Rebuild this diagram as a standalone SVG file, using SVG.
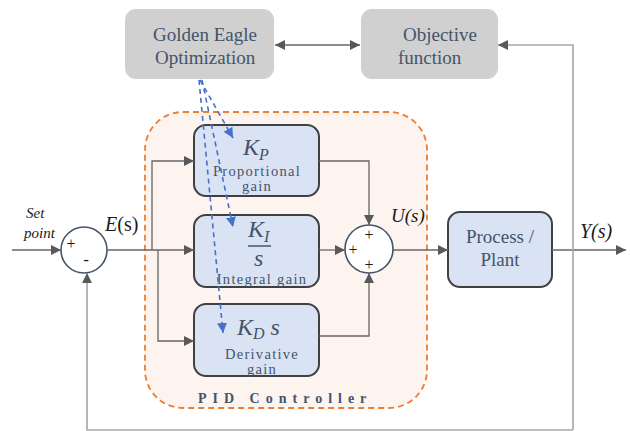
<svg xmlns="http://www.w3.org/2000/svg" width="630" height="431" viewBox="0 0 630 431">
<style>
.top{fill:#d0d0d0;}
.blk{fill:#dae3f3;stroke:#404040;stroke-width:2;}
.sum{fill:#fff;stroke:#44546a;stroke-width:1.6;}
.t{font-family:"Liberation Serif","Times New Roman",serif;fill:#44546a;}
.big{font-size:19px;}
.sm{font-size:14.5px;letter-spacing:1.3px;}
.m{font-family:"Liberation Serif","Times New Roman",serif;font-style:italic;fill:#44546a;font-size:24px;}
.lab{font-family:"Liberation Serif","Times New Roman",serif;fill:#1a1a1a;}
.ln{fill:none;stroke:#666;stroke-width:1.3;}
.fb{fill:none;stroke:#a6a6a6;stroke-width:1.6;}
.bl{fill:none;stroke:#4472c4;stroke-width:1.6;stroke-dasharray:5 4;}
</style>
<defs>
<marker id="ah" viewBox="0 0 10 10" refX="10" refY="5" markerWidth="10" markerHeight="10" markerUnits="userSpaceOnUse" orient="auto-start-reverse">
<path d="M0,0 L10,5 L0,10 z" fill="#595959"/>
</marker>
<marker id="bh" viewBox="0 0 10 10" refX="10" refY="5" markerWidth="10" markerHeight="10" markerUnits="userSpaceOnUse" orient="auto">
<path d="M0,0 L10,5 L0,10 z" fill="#4472c4"/>
</marker>
</defs>

<g id="pid-controller">
<rect x="145" y="112" width="282" height="296" rx="38" fill="#fdf3ef" stroke="#ed7d31" stroke-width="1.8" stroke-dasharray="6 4"/>
<text x="198" y="403" class="t" style="font-size:14px;font-weight:bold;letter-spacing:6px">PID Controller</text>
</g>

<g id="golden-eagle">
<rect class="top" x="125" y="9" width="149" height="70" rx="11"/>
<text class="t big" x="153" y="41">Golden Eagle</text>
<text class="t big" x="155" y="64">Optimization</text>
</g>

<g id="objective">
<rect class="top" x="361" y="9" width="137" height="70" rx="11"/>
<text class="t big" x="403" y="41">Objective</text>
<text class="t big" x="398" y="64">function</text>
</g>

<g id="kp">
<rect class="blk" x="194" y="125" width="125" height="71" rx="12"/>
<text class="m" x="243" y="155">K<tspan font-size="16" dy="5">P</tspan></text>
<text class="t sm" x="257" y="176" text-anchor="middle">Proportional</text>
<text class="t sm" x="257" y="191" text-anchor="middle">gain</text>
</g>

<g id="ki">
<rect class="blk" x="194" y="215" width="125" height="72" rx="12"/>
<text class="m" x="248" y="237">K<tspan font-size="16" dy="5">I</tspan></text>
<line x1="248" y1="246" x2="271" y2="246" stroke="#44546a" stroke-width="1.5"/>
<text class="m" x="254" y="266">s</text>
<text class="t sm" x="262" y="284" text-anchor="middle">Integral gain</text>
</g>

<g id="kd">
<rect class="blk" x="194" y="304" width="125" height="72" rx="12"/>
<text class="m" x="237" y="335">K<tspan font-size="16" dy="4">D</tspan><tspan dy="-4"> s</tspan></text>
<text class="t sm" x="262" y="359" text-anchor="middle">Derivative</text>
<text class="t sm" x="262" y="374" text-anchor="middle">gain</text>
</g>

<g id="process">
<rect class="blk" x="448" y="212" width="104" height="75" rx="12"/>
<text class="t big" x="500" y="243" text-anchor="middle">Process /</text>
<text class="t big" x="500" y="266" text-anchor="middle">Plant</text>
</g>

<g id="sum1">
<circle class="sum" cx="84" cy="250" r="23"/>
<text class="lab" x="71" y="249" text-anchor="middle" font-size="16">+</text>
<text class="lab" x="86" y="265" text-anchor="middle" font-size="17">-</text>
</g>

<g id="sum2">
<circle class="sum" cx="369" cy="249" r="24"/>
<text class="lab" x="369" y="240" text-anchor="middle" font-size="16">+</text>
<text class="lab" x="353" y="255" text-anchor="middle" font-size="16">+</text>
<text class="lab" x="369" y="270" text-anchor="middle" font-size="16">+</text>
</g>

<g id="labels">
<text class="lab" x="26" y="218" font-size="15" font-style="italic">Set</text>
<text class="lab" x="24" y="238" font-size="15" font-style="italic">point</text>
<text class="lab" x="105" y="231" font-size="20"><tspan font-style="italic">E</tspan>(s)</text>
<text class="lab" x="391" y="222" font-size="19" font-style="italic">U(s)</text>
<text class="lab" x="580" y="238" font-size="20" font-style="italic">Y(s)</text>
</g>

<g id="connectors">
<line class="ln" x1="12" y1="250" x2="61" y2="250" marker-end="url(#ah)"/>
<line class="ln" x1="107" y1="250" x2="194" y2="250" marker-end="url(#ah)"/>
<polyline class="ln" points="152,250 152,161 194,161" marker-end="url(#ah)"/>
<polyline class="ln" points="158,250 158,341 194,341" marker-end="url(#ah)"/>
<polyline class="ln" points="319,161 369,161 369,225" marker-end="url(#ah)"/>
<line class="ln" x1="319" y1="250" x2="345" y2="250" marker-end="url(#ah)"/>
<polyline class="ln" points="319,336 369,336 369,273" marker-end="url(#ah)"/>
<line class="ln" x1="393" y1="250" x2="448" y2="250" marker-end="url(#ah)"/>
<line class="ln" x1="552" y1="250" x2="626" y2="250" marker-end="url(#ah)"/>
<line class="ln" x1="275" y1="45" x2="360" y2="45" marker-start="url(#ah)" marker-end="url(#ah)"/>
<polyline class="fb" points="573,430 573,45 498,45" marker-end="url(#ah)"/>
<polyline class="fb" points="573,430 87,430 87,273" marker-end="url(#ah)"/>
<line class="bl" x1="200" y1="80" x2="233" y2="138" marker-end="url(#bh)"/>
<line class="bl" x1="202" y1="80" x2="233" y2="227" marker-end="url(#bh)"/>
<line class="bl" x1="199" y1="80" x2="223" y2="333" marker-end="url(#bh)"/>
</g>
</svg>
